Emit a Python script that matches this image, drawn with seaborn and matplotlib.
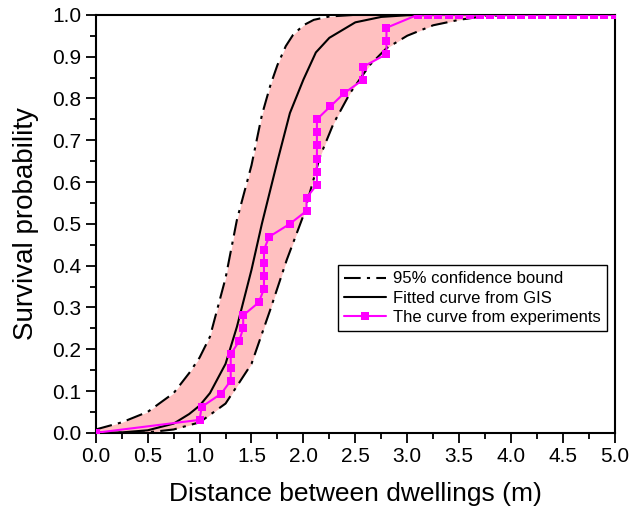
import numpy as np
import pandas as pd
import matplotlib
matplotlib.use("Agg")
import matplotlib.pyplot as plt
from matplotlib.ticker import MultipleLocator
import seaborn as sns

# Curves (distance in m, survival probability)
fit_x = [0.0, 0.25, 0.5, 0.75, 0.9, 1.0, 1.1, 1.25, 1.36, 1.5, 1.6, 1.75, 1.87, 2.0,
         2.12, 2.25, 2.5, 2.75, 3.0, 3.5, 5.0]
fit_y = [0.0, 0.001, 0.006, 0.022, 0.045, 0.065, 0.095, 0.165, 0.254, 0.39, 0.50, 0.65,
         0.765, 0.845, 0.91, 0.945, 0.982, 0.995, 0.999, 1.0, 1.0]

upper_x = [0.0, 0.25, 0.5, 0.75, 0.9, 1.0, 1.1, 1.25, 1.36, 1.5, 1.6, 1.68, 1.75, 1.83,
           1.9, 2.0, 2.1, 2.25, 2.5, 5.0]
upper_y = [0.008, 0.025, 0.05, 0.095, 0.143, 0.18, 0.23, 0.37, 0.51, 0.64, 0.76, 0.83,
           0.88, 0.925, 0.952, 0.975, 0.988, 0.996, 1.0, 1.0]

lower_x = [0.0, 0.5, 0.75, 1.0, 1.25, 1.5, 1.68, 1.84, 2.0, 2.16, 2.29, 2.45, 2.64,
           2.8, 3.0, 3.25, 3.5, 3.75, 4.0, 5.0]
lower_y = [0.0, 0.001, 0.008, 0.025, 0.07, 0.165, 0.294, 0.414, 0.52, 0.661, 0.74,
           0.813, 0.88, 0.92, 0.95, 0.975, 0.988, 0.997, 1.0, 1.0]

# Experimental curve (steps of 1/32)
exp_x = [0.0, 1.0, 1.02, 1.21, 1.30, 1.30, 1.30, 1.38, 1.42, 1.42, 1.57, 1.62, 1.62,
         1.62, 1.62, 1.67, 1.87, 2.03, 2.03, 2.13, 2.13, 2.13, 2.13, 2.13, 2.13, 2.26,
         2.39, 2.57, 2.57, 2.80, 2.80, 2.80, 3.1, 3.2, 3.3, 3.4, 3.5, 3.6, 3.7, 3.8,
         3.9, 4.0, 4.1, 4.2, 4.3, 4.4, 4.5, 4.6, 4.7, 4.8, 4.9, 5.0]
exp_y = [0.0, 0.031, 0.062, 0.094, 0.125, 0.156, 0.188, 0.219, 0.25, 0.281, 0.312,
         0.344, 0.375, 0.406, 0.438, 0.469, 0.5, 0.531, 0.562, 0.594, 0.625, 0.656,
         0.688, 0.719, 0.75, 0.781, 0.812, 0.844, 0.875, 0.906, 0.938, 0.969,
         1.0, 1.0, 1.0, 1.0, 1.0, 1.0, 1.0, 1.0, 1.0, 1.0, 1.0, 1.0, 1.0, 1.0,
         1.0, 1.0, 1.0, 1.0, 1.0, 1.0]

sns.set_style("ticks")
plt.rcParams['font.family'] = ['Liberation Sans', 'DejaVu Sans']

fig = plt.figure(figsize=(6.3, 5.11), dpi=100)
ax = fig.add_axes([0.152, 0.153, 0.824, 0.818])

# shaded band between the bounds
grid = np.union1d(upper_x, lower_x)
ax.fill_between(grid, np.interp(grid, lower_x, lower_y), np.interp(grid, upper_x, upper_y),
                color='#ffc0c0', linewidth=0, zorder=1)

dashdot = (8, 3, 1.5, 3)
sns.lineplot(x=upper_x, y=upper_y, ax=ax, color='black', lw=1.5,
             label='95% confidence bound', zorder=2)
sns.lineplot(x=lower_x, y=lower_y, ax=ax, color='black', lw=1.5, zorder=2)
for ln in ax.lines:
    ln.set_dashes(dashdot)
sns.lineplot(x=fit_x, y=fit_y, ax=ax, color='black', lw=1.5,
             label='Fitted curve from GIS', zorder=3)
sns.lineplot(x=exp_x, y=exp_y, ax=ax, color='#ff00ff', lw=1.5, marker='s',
             markersize=6, markeredgewidth=0, estimator=None, sort=False,
             label='The curve from experiments', zorder=4)

ax.set_xlim(0, 5)
ax.set_ylim(0, 1)
ax.xaxis.set_major_locator(MultipleLocator(0.5))
ax.xaxis.set_minor_locator(MultipleLocator(0.25))
ax.yaxis.set_major_locator(MultipleLocator(0.1))
ax.yaxis.set_minor_locator(MultipleLocator(0.05))
ax.xaxis.set_major_formatter(plt.FormatStrFormatter('%.1f'))
ax.yaxis.set_major_formatter(plt.FormatStrFormatter('%.1f'))
ax.tick_params(which='major', direction='out', length=7, width=1.3, labelsize=15,
               colors='black')
ax.tick_params(which='minor', direction='out', length=4, width=1.3, colors='black')
for sp in ax.spines.values():
    sp.set_visible(True)
    sp.set_linewidth(1.5)
    sp.set_color('black')

ax.set_xlabel('Distance between dwellings (m)', fontsize=19, labelpad=11, color='black')
ax.set_ylabel('Survival probability', fontsize=20, labelpad=9, color='black')

handles, labels = ax.get_legend_handles_labels()
leg = ax.legend(handles, labels, loc='upper left', bbox_to_anchor=(0.466, 0.402),
                fontsize=12, frameon=True, fancybox=False, edgecolor='black',
                framealpha=1, handlelength=2.5, borderpad=0.4, labelspacing=0.25,
                handletextpad=0.4, borderaxespad=0)
leg.get_frame().set_linewidth(1.0)
for t in leg.get_texts():
    t.set_color('black')

fig.savefig('out.png', dpi=100)
